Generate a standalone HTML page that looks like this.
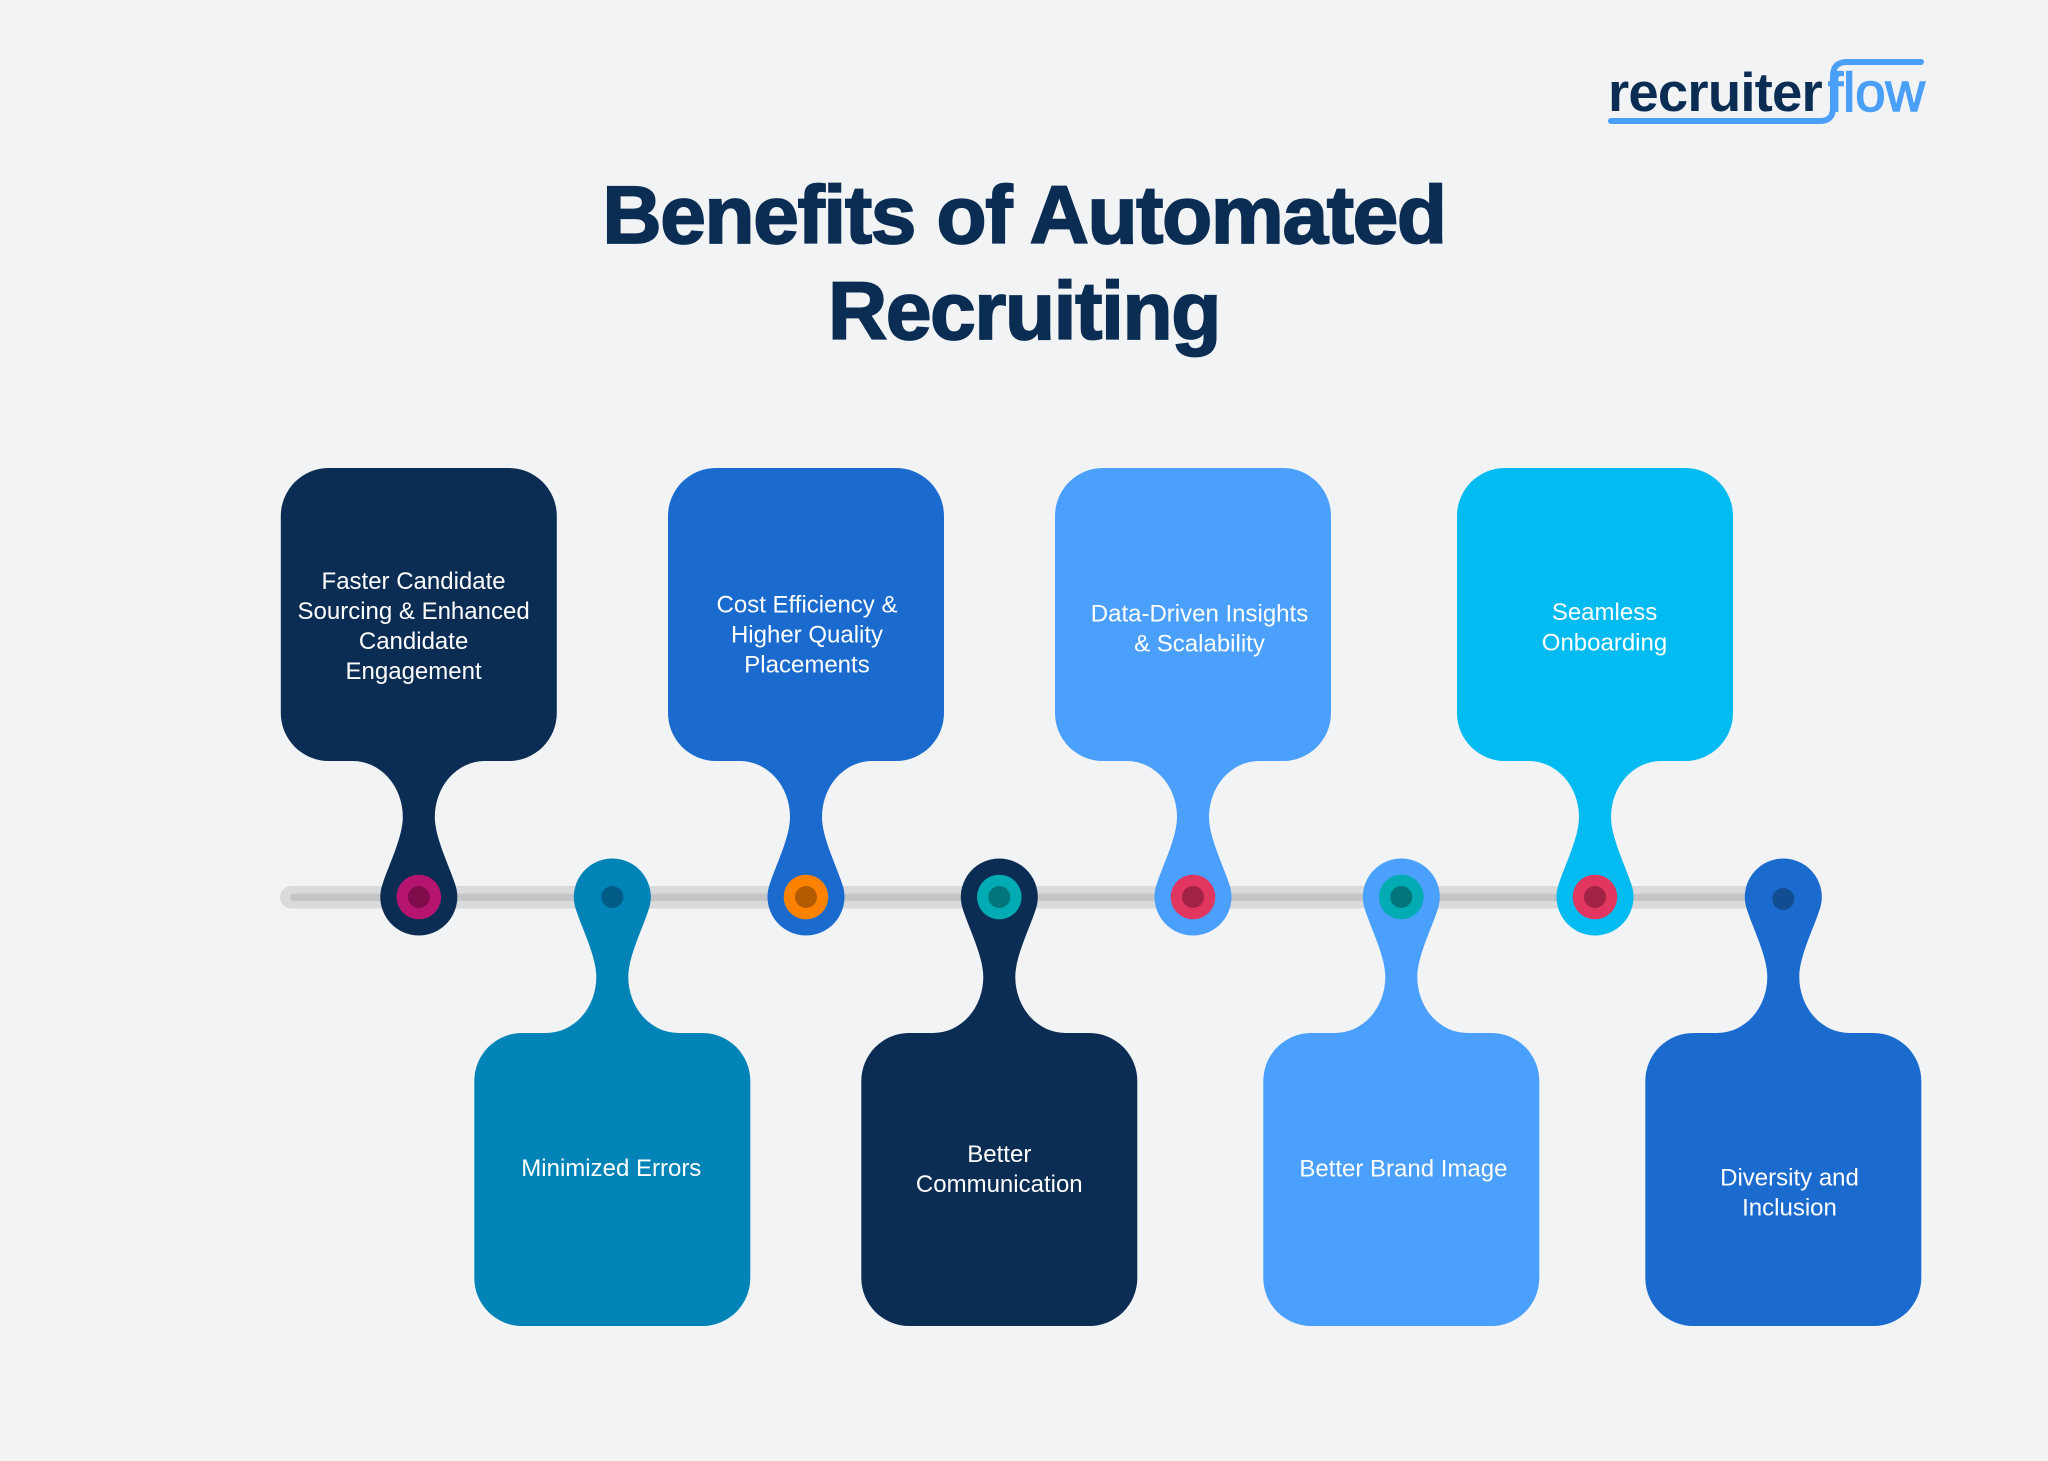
<!DOCTYPE html>
<html>
<head>
<meta charset="utf-8">
<style>
  html,body{margin:0;padding:0;background:#f2f3f5;}
  body{width:2048px;height:1461px;overflow:hidden;}
  svg{display:block;}
  .t{font-family:"Liberation Sans",Arial,sans-serif;font-size:24px;fill:#ffffff;text-anchor:middle;}
  .title{font-family:"Liberation Sans",Arial,sans-serif;font-size:82px;font-weight:700;fill:#0b2d53;stroke:#0b2d53;stroke-width:1.8px;letter-spacing:-1.35px;text-anchor:middle;}
</style>
</head>
<body>
<svg width="2048" height="1461" viewBox="0 0 2048 1461" xmlns="http://www.w3.org/2000/svg">
  <rect x="0" y="0" width="2048" height="1461" fill="#f2f3f5"/>

  <!-- Logo -->
  <text x="1608" y="111" style="font-family:'Liberation Sans',Arial,sans-serif;font-size:54.5px;font-weight:700;letter-spacing:-0.8px;" fill="#0b2d53">recruiter</text>
  <path d="M 1611 121 H 1820 Q 1833 121 1833 108 V 76 Q 1833 62 1847 62 H 1921" fill="none" stroke="#4a9ff9" stroke-width="6" stroke-linecap="round" stroke-linejoin="round"/>
  <text x="1828" y="111" style="font-family:'Liberation Sans',Arial,sans-serif;font-size:54.5px;" fill="#4a9ff9" stroke="#4a9ff9" stroke-width="1.5">flow</text>

  <!-- Title -->
  <text class="title" x="1024" y="243">Benefits of Automated</text>
  <text class="title" x="1024" y="339">Recruiting</text>

  <!-- Timeline -->
  <rect x="280" y="886" width="1510" height="22.5" rx="11.25" fill="#d9dadc"/>
  <rect x="290" y="893.6" width="1495" height="7.4" rx="3.7" fill="#c4c5c7"/>

  <!-- Top pins -->
  <path transform="translate(418.8,897)" fill="#0b2d53" d="M -138 -381 A 48 48 0 0 1 -90 -429 H 90 A 48 48 0 0 1 138 -381 V -184 A 48 48 0 0 1 90 -136 H 66 A 50 56 0 0 0 16 -80 C 16 -60 29.2 -34 36.1 -13.4 A 38.5 38.5 0 1 1 -36.1 -13.4 C -29.2 -34 -16 -60 -16 -80 A 50 56 0 0 0 -66 -136 H -90 A 48 48 0 0 1 -138 -184 Z"/>
  <path transform="translate(806,897)" fill="#1b6bcf" d="M -138 -381 A 48 48 0 0 1 -90 -429 H 90 A 48 48 0 0 1 138 -381 V -184 A 48 48 0 0 1 90 -136 H 66 A 50 56 0 0 0 16 -80 C 16 -60 29.2 -34 36.1 -13.4 A 38.5 38.5 0 1 1 -36.1 -13.4 C -29.2 -34 -16 -60 -16 -80 A 50 56 0 0 0 -66 -136 H -90 A 48 48 0 0 1 -138 -184 Z"/>
  <path transform="translate(1193,897)" fill="#4aa0fc" d="M -138 -381 A 48 48 0 0 1 -90 -429 H 90 A 48 48 0 0 1 138 -381 V -184 A 48 48 0 0 1 90 -136 H 66 A 50 56 0 0 0 16 -80 C 16 -60 29.2 -34 36.1 -13.4 A 38.5 38.5 0 1 1 -36.1 -13.4 C -29.2 -34 -16 -60 -16 -80 A 50 56 0 0 0 -66 -136 H -90 A 48 48 0 0 1 -138 -184 Z"/>
  <path transform="translate(1595,897)" fill="#02bbf0" d="M -138 -381 A 48 48 0 0 1 -90 -429 H 90 A 48 48 0 0 1 138 -381 V -184 A 48 48 0 0 1 90 -136 H 66 A 50 56 0 0 0 16 -80 C 16 -60 29.2 -34 36.1 -13.4 A 38.5 38.5 0 1 1 -36.1 -13.4 C -29.2 -34 -16 -60 -16 -80 A 50 56 0 0 0 -66 -136 H -90 A 48 48 0 0 1 -138 -184 Z"/>

  <!-- Bottom pins (mirrored) -->
  <path transform="translate(612.3,897) scale(1,-1)" fill="#0083b7" d="M -138 -381 A 48 48 0 0 1 -90 -429 H 90 A 48 48 0 0 1 138 -381 V -184 A 48 48 0 0 1 90 -136 H 66 A 50 56 0 0 0 16 -80 C 16 -60 29.2 -34 36.1 -13.4 A 38.5 38.5 0 1 1 -36.1 -13.4 C -29.2 -34 -16 -60 -16 -80 A 50 56 0 0 0 -66 -136 H -90 A 48 48 0 0 1 -138 -184 Z"/>
  <path transform="translate(999.3,897) scale(1,-1)" fill="#0b2d53" d="M -138 -381 A 48 48 0 0 1 -90 -429 H 90 A 48 48 0 0 1 138 -381 V -184 A 48 48 0 0 1 90 -136 H 66 A 50 56 0 0 0 16 -80 C 16 -60 29.2 -34 36.1 -13.4 A 38.5 38.5 0 1 1 -36.1 -13.4 C -29.2 -34 -16 -60 -16 -80 A 50 56 0 0 0 -66 -136 H -90 A 48 48 0 0 1 -138 -184 Z"/>
  <path transform="translate(1401.3,897) scale(1,-1)" fill="#4aa0fc" d="M -138 -381 A 48 48 0 0 1 -90 -429 H 90 A 48 48 0 0 1 138 -381 V -184 A 48 48 0 0 1 90 -136 H 66 A 50 56 0 0 0 16 -80 C 16 -60 29.2 -34 36.1 -13.4 A 38.5 38.5 0 1 1 -36.1 -13.4 C -29.2 -34 -16 -60 -16 -80 A 50 56 0 0 0 -66 -136 H -90 A 48 48 0 0 1 -138 -184 Z"/>
  <path transform="translate(1783.3,897) scale(1,-1)" fill="#1b6bcf" d="M -138 -381 A 48 48 0 0 1 -90 -429 H 90 A 48 48 0 0 1 138 -381 V -184 A 48 48 0 0 1 90 -136 H 66 A 50 56 0 0 0 16 -80 C 16 -60 29.2 -34 36.1 -13.4 A 38.5 38.5 0 1 1 -36.1 -13.4 C -29.2 -34 -16 -60 -16 -80 A 50 56 0 0 0 -66 -136 H -90 A 48 48 0 0 1 -138 -184 Z"/>

  <!-- Dots -->
  <circle cx="418.8" cy="897" r="22.3" fill="#b5156f"/>
  <circle cx="418.8" cy="897" r="11" fill="#7f0d4c"/>

  <circle cx="612.3" cy="897" r="11" fill="#005b86"/>

  <circle cx="806" cy="897" r="22.3" fill="#fc8200"/>
  <circle cx="806" cy="897" r="11" fill="#b35b00"/>

  <circle cx="999.3" cy="897" r="22.3" fill="#00abb4"/>
  <circle cx="999.3" cy="897" r="11" fill="#00767b"/>

  <circle cx="1193" cy="897" r="22.3" fill="#e0365f"/>
  <circle cx="1193" cy="897" r="11" fill="#a02244"/>

  <circle cx="1401.3" cy="897" r="22.3" fill="#00abb4"/>
  <circle cx="1401.3" cy="897" r="11" fill="#00767b"/>

  <circle cx="1595" cy="897" r="22.3" fill="#e0365f"/>
  <circle cx="1595" cy="897" r="11" fill="#a02244"/>

  <circle cx="1783.3" cy="899" r="11" fill="#124c91"/>

  <!-- Box texts -->
  <text class="t" x="413.6" y="589">Faster Candidate</text>
  <text class="t" x="413.6" y="619">Sourcing  &amp; Enhanced</text>
  <text class="t" x="413.6" y="649">Candidate</text>
  <text class="t" x="413.6" y="679">Engagement</text>

  <text class="t" x="807" y="612.6">Cost Efficiency &amp;</text>
  <text class="t" x="807" y="642.6">Higher Quality</text>
  <text class="t" x="807" y="672.6">Placements</text>

  <text class="t" x="1199.5" y="621.5">Data-Driven Insights</text>
  <text class="t" x="1199.5" y="651.5">&amp; Scalability</text>

  <text class="t" x="1604.5" y="620">Seamless</text>
  <text class="t" x="1604.5" y="650.5">Onboarding</text>

  <text class="t" x="611.3" y="1176">Minimized Errors</text>

  <text class="t" x="999.3" y="1162">Better</text>
  <text class="t" x="999.3" y="1192">Communication</text>

  <text class="t" x="1403.4" y="1176.7">Better Brand Image</text>

  <text class="t" x="1789.5" y="1185.7">Diversity and</text>
  <text class="t" x="1789.5" y="1215.7">Inclusion</text>
</svg>
</body>
</html>
